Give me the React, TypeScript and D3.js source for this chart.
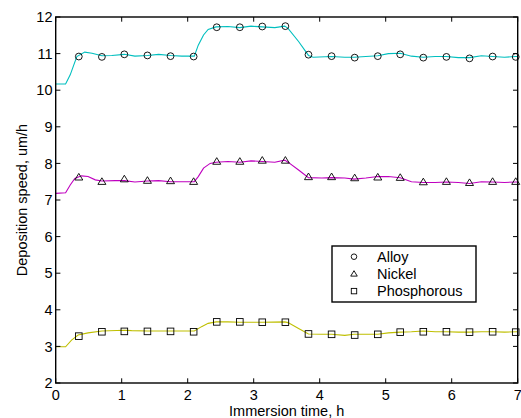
import React from "react";
import * as d3 from "d3";

const xTicks = [0, 1, 2, 3, 4, 5, 6, 7];
const yTicks = [2, 3, 4, 5, 6, 7, 8, 9, 10, 11, 12];

const alloyT = [0, 0.15, 0.22, 0.32, 0.44, 0.55, 0.70, 0.85, 1.04, 1.20, 1.39, 1.56, 1.74, 1.91, 2.06, 2.10, 2.16, 2.24, 2.31, 2.43, 2.61, 2.79, 2.96, 3.13, 3.32, 3.47, 3.52, 3.68, 3.83, 3.90, 4.18, 4.38, 4.52, 4.88, 5.04, 5.22, 5.39, 5.57, 5.75, 5.92, 6.10, 6.27, 6.45, 6.62, 6.80, 6.97, 7.0];
const alloyV = [10.17, 10.17, 10.42, 10.92, 11.04, 11.01, 10.94, 10.95, 10.98, 10.93, 10.95, 10.98, 10.95, 10.93, 10.93, 10.93, 11.23, 11.51, 11.66, 11.73, 11.74, 11.71, 11.75, 11.73, 11.71, 11.75, 11.69, 11.33, 10.95, 10.90, 10.92, 10.90, 10.90, 10.94, 11.00, 11.01, 10.93, 10.90, 10.92, 10.92, 10.89, 10.89, 10.94, 10.92, 10.90, 10.92, 10.92];

const nickelT = [0, 0.15, 0.22, 0.29, 0.39, 0.49, 0.60, 0.70, 0.90, 1.04, 1.20, 1.39, 1.56, 1.74, 1.91, 2.10, 2.16, 2.24, 2.34, 2.43, 2.61, 2.79, 2.96, 3.13, 3.32, 3.47, 3.53, 3.68, 3.83, 4.03, 4.18, 4.38, 4.52, 4.70, 4.88, 5.04, 5.22, 5.39, 5.57, 5.75, 5.92, 6.10, 6.27, 6.45, 6.62, 6.80, 6.97, 7.0];
const nickelV = [7.18, 7.20, 7.41, 7.59, 7.66, 7.64, 7.55, 7.52, 7.53, 7.53, 7.49, 7.52, 7.53, 7.50, 7.50, 7.50, 7.64, 7.87, 8.00, 8.03, 8.05, 8.03, 8.07, 8.05, 8.03, 8.09, 8.02, 7.82, 7.61, 7.60, 7.61, 7.60, 7.57, 7.60, 7.64, 7.64, 7.61, 7.50, 7.48, 7.48, 7.49, 7.48, 7.45, 7.50, 7.49, 7.48, 7.49, 7.49];

const phosT = [0, 0.15, 0.24, 0.34, 0.49, 0.70, 1.04, 1.15, 1.39, 1.74, 2.10, 2.21, 2.31, 2.43, 2.61, 2.79, 3.13, 3.47, 3.52, 3.68, 3.83, 4.03, 4.18, 4.38, 4.52, 4.70, 4.88, 5.04, 5.22, 5.39, 5.57, 5.75, 5.92, 6.10, 6.27, 6.45, 6.62, 6.80, 7.0];
const phosV = [2.99, 2.99, 3.17, 3.31, 3.37, 3.42, 3.44, 3.43, 3.42, 3.42, 3.42, 3.54, 3.63, 3.67, 3.67, 3.66, 3.66, 3.67, 3.65, 3.49, 3.34, 3.33, 3.33, 3.30, 3.33, 3.33, 3.33, 3.37, 3.39, 3.40, 3.42, 3.40, 3.40, 3.39, 3.39, 3.40, 3.40, 3.39, 3.40];

const markerT = [0.35, 0.70, 1.04, 1.39, 1.74, 2.09, 2.44, 2.79, 3.13, 3.48, 3.83, 4.18, 4.53, 4.88, 5.22, 5.57, 5.92, 6.27, 6.62, 6.97];
const alloyM = [10.92, 10.91, 10.98, 10.95, 10.93, 10.92, 11.72, 11.72, 11.74, 11.75, 10.97, 10.93, 10.89, 10.93, 10.98, 10.89, 10.91, 10.87, 10.92, 10.91];
const nickelM = [7.62, 7.50, 7.57, 7.53, 7.52, 7.50, 8.05, 8.05, 8.08, 8.08, 7.63, 7.63, 7.60, 7.62, 7.61, 7.49, 7.50, 7.47, 7.50, 7.50];
const phosM = [3.28, 3.40, 3.41, 3.41, 3.41, 3.40, 3.67, 3.67, 3.66, 3.66, 3.34, 3.33, 3.31, 3.33, 3.39, 3.40, 3.40, 3.39, 3.40, 3.39];

const seriesNames = ["Alloy", "Nickel", "Phosphorous"];
const colors = ["#00BFBF", "#BF00BF", "#BFBF00"];

const W = 521, H = 418;
const L = 55.7, R = 517.7, T = 17, B = 383;
const FONT = "'Liberation Sans', Arial, sans-serif";

function Marker({ kind, x, y, s = 1 }: { kind: number; x: number; y: number; s?: number }) {
  const common = { fill: "none", stroke: "#000", strokeWidth: 0.9 };
  if (kind === 0) return <circle cx={x} cy={y} r={3.4 * s} {...common} />;
  if (kind === 1)
    return (
      <path
        d={`M${x},${y - 3.9 * s}L${x + 4 * s},${y + 2.7 * s}L${x - 4 * s},${y + 2.7 * s}Z`}
        {...common}
      />
    );
  return <rect x={x - 3.3 * s} y={y - 3.3 * s} width={6.6 * s} height={6.6 * s} {...common} />;
}

export default function App() {
  const x = d3.scaleLinear().domain([0, 7]).range([L, R]);
  const y = d3.scaleLinear().domain([2, 12]).range([B, T]);
  const line = d3
    .line<[number, number]>()
    .x((d) => x(d[0]))
    .y((d) => y(d[1]));

  const lines = [
    d3.zip(alloyT, alloyV) as [number, number][],
    d3.zip(nickelT, nickelV) as [number, number][],
    d3.zip(phosT, phosV) as [number, number][],
  ];
  const marks = [alloyM, nickelM, phosM];
  const tl = 4.7;

  return (
    <svg
      width={W}
      height={H}
      style={{ position: "absolute", left: 0, top: 0, background: "#fff" }}
      fontFamily={FONT}
    >
      <rect x={0} y={0} width={W} height={H} fill="#fff" />
      {lines.map((d, i) => (
        <path key={"l" + i} d={line(d) || ""} fill="none" stroke={colors[i]} strokeWidth={1.1} />
      ))}
      {marks.map((m, i) =>
        m.map((v, j) => <Marker key={`m${i}-${j}`} kind={i} x={x(markerT[j])} y={y(v)} />)
      )}
      {/* axes box */}
      <rect x={L} y={T} width={R - L} height={B - T} fill="none" stroke="#000" strokeWidth={1.4} />
      {xTicks.map((t) => (
        <g key={"xt" + t}>
          <line x1={x(t)} x2={x(t)} y1={B} y2={B - tl} stroke="#000" />
          <line x1={x(t)} x2={x(t)} y1={T} y2={T + tl} stroke="#000" />
          <text x={x(t)} y={400} fontSize={14.5} textAnchor="middle" fill="#000">
            {t}
          </text>
        </g>
      ))}
      {yTicks.map((t) => (
        <g key={"yt" + t}>
          <line x1={L} x2={L + tl} y1={y(t)} y2={y(t)} stroke="#000" />
          <line x1={R} x2={R - tl} y1={y(t)} y2={y(t)} stroke="#000" />
          <text x={52.5} y={y(t)} dy="0.36em" fontSize={14.5} textAnchor="end" fill="#000">
            {t}
          </text>
        </g>
      ))}
      <text x={(L + R) / 2} y={416} fontSize={14.5} textAnchor="middle" fill="#000">
        Immersion time, h
      </text>
      <text
        transform={`translate(27,${(T + B) / 2}) rotate(-90)`}
        fontSize={14.5}
        textAnchor="middle"
        fill="#000"
      >
        Deposition speed, um/h
      </text>
      {/* legend */}
      <rect x={332} y={246} width={144} height={56} fill="#fff" stroke="#000" strokeWidth={1.4} />
      {seriesNames.map((n, i) => (
        <g key={"lg" + i}>
          <Marker kind={i} x={354} y={256.7 + i * 17.2} s={0.82} />
          <text x={377} y={261.7 + i * 17.2} fontSize={14.5} fill="#000">
            {n}
          </text>
        </g>
      ))}
    </svg>
  );
}
